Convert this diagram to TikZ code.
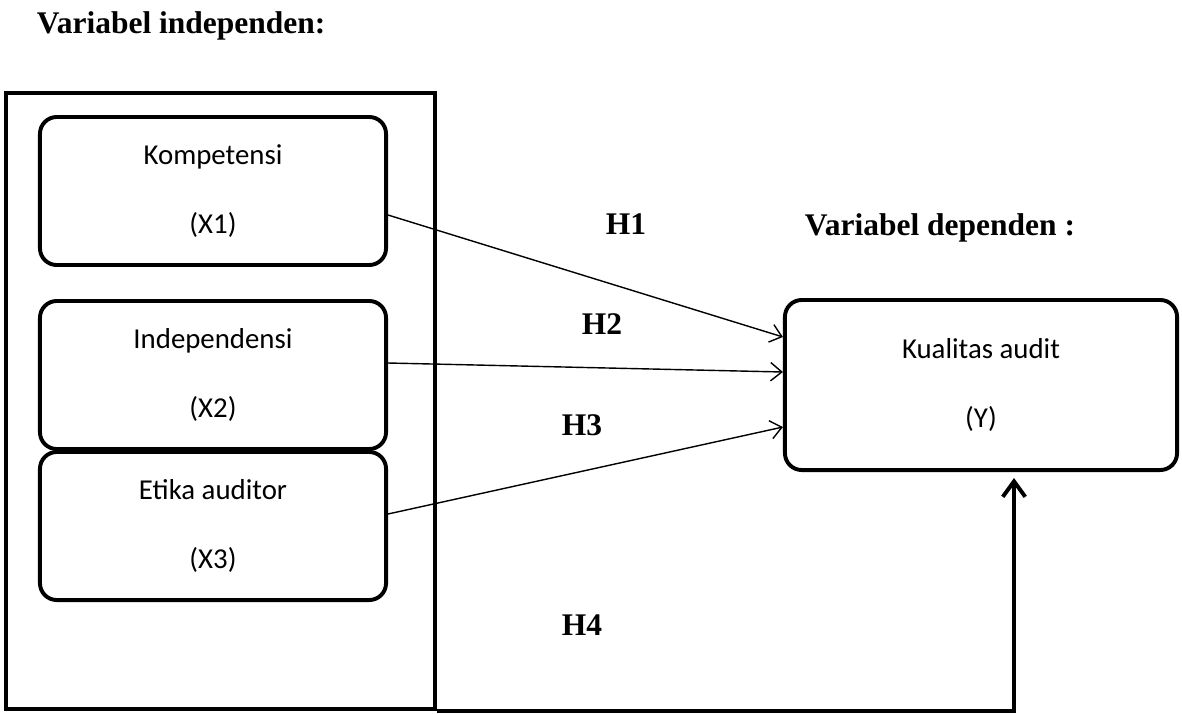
\documentclass[tikz,border=0pt]{standalone}
\usepackage{fontspec}
\setmainfont{Liberation Serif}
\newfontfamily\calibrifont{Carlito}
\usetikzlibrary{arrows.meta}

\begin{document}
\begin{tikzpicture}[x=0.025cm, y=-0.025cm,
	varbox/.style={draw, line width=2.8pt, rounded corners=0.42cm, align=center, minimum width=8.65cm, minimum height=3.7cm, font={\calibrifont\fontsize{20.5}{25}\selectfont}},
	hyp/.style={anchor=base, font={\bfseries\fontsize{22.4}{26}\selectfont}},
	link/.style={line width=1pt, -{Straight Barb[length=8pt,width=13pt]}},
	thicklink/.style={line width=2.8pt, -{Straight Barb[length=11pt,width=16pt]}}]
	\useasboundingbox (0,0) rectangle (1182,713);
	
	\node[hyp, anchor=base west] (indep) at (32,33) {Variabel independen:};
	\node[hyp, anchor=base west] (dep) at (800,235) {Variabel dependen :};
	
	\node[draw, line width=2.8pt, minimum width=10.725cm, minimum height=15.4cm] (outer) at (220.5,401) {};
	
	\node[varbox] (X1) at (213,191) {Kompetensi\\[24pt](X1)};
	\node[varbox] (X2) at (213,375) {Independensi\\[24pt](X2)};
	\node[varbox] (X3) at (213,526) {Etika auditor\\[24pt](X3)};
	\node[varbox, minimum width=9.8cm, minimum height=4.25cm] (Y) at (981,385) {Kualitas audit\\[24pt](Y)};
	
	\draw[link] ([yshift=-0.6cm]X1.east) -- ([yshift=1.2cm]Y.west);
	\draw[link] ([yshift=0.3cm]X2.east) -- ([yshift=0.325cm]Y.west);
	\draw[link] ([yshift=0.3cm]X3.east) -- ([yshift=-1.05cm]Y.west);
	
	\coordinate (tip) at (1014,478);
	\draw[thicklink] (outer.south east) -| (tip);
	
	\node[hyp] (H1) at (626,234) {H1};
	\node[hyp] (H2) at (602,334) {H2};
	\node[hyp] (H3) at (582,435) {H3};
	\node[hyp] (H4) at (582,635) {H4};
\end{tikzpicture}
\end{document}
